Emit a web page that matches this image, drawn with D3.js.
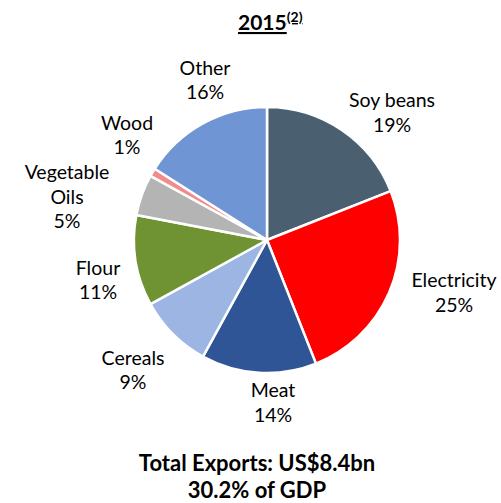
<!DOCTYPE html>
<html><head><meta charset="utf-8">
<script src="https://cdn.jsdelivr.net/npm/d3@7"></script>
<style>body{margin:0;background:#fff}svg{display:block}text{font-family:Lato,"Open Sans",sans-serif;fill:#000}</style>
</head><body><svg width="501" height="503"></svg>
<script>
const categories = ["Soy beans","Electricity","Meat","Cereals","Flour","Vegetable Oils","Wood","Other"];
const values = [19,25,14,9,11,5,1,16];
const colors = ["#4A5F70","#FF0000","#2F5597","#9DB5E3","#6F9332","#B4B4B4","#F28B8B","#7095D4"];
const labelLines = [["Soy beans"],["Electricity"],["Meat"],["Cereals"],["Flour"],["Vegetable","Oils"],["Wood"],["Other"]];
// label first-line centre offsets from pie centre (layout only)
const labelPos = [[125,-140],[187,40],[6,150],[-134,117.5],[-169,27.5],[-200,-68],[-140,-117.5],[-62,-172.5]];

const svg = d3.select("svg");
const cx = 267, cy = 240, r = 133;
const pie = d3.pie().sort(null).value(d=>d)(values);
const arc = d3.arc().innerRadius(0).outerRadius(r);
const g = svg.append("g").attr("transform",`translate(${cx},${cy})`);
g.selectAll("path").data(pie).join("path")
  .attr("d",arc).attr("fill",(d,i)=>colors[i])
  .attr("stroke","#fff").attr("stroke-width",2.5).attr("stroke-linejoin","round");

pie.forEach((d,i)=>{
  const lines = labelLines[i].concat([values[i]+"%"]);
  const [lx,ly] = labelPos[i];
  const t = g.append("text").attr("text-anchor","middle").attr("font-size",19.5);
  const lh = 24.5;
  const y0 = ly + 7;
  lines.forEach((s,k)=>t.append("tspan").attr("x",lx).attr("y",y0+k*lh).text(s));
});

const title = svg.append("text").attr("x",238).attr("y",30).attr("text-anchor","start")
  .attr("font-size",21).attr("font-weight","bold").attr("text-decoration","underline");
title.append("tspan").text("2015");
title.append("tspan").attr("font-size",14).attr("dy",-8).text("(2)");

svg.append("text").attr("x",257).attr("y",471).attr("text-anchor","middle")
  .attr("font-size",22).attr("font-weight","bold").text("Total Exports: US$8.4bn");
svg.append("text").attr("x",257).attr("y",498).attr("text-anchor","middle")
  .attr("font-size",22).attr("font-weight","bold").text("30.2% of GDP");
</script></body></html>
